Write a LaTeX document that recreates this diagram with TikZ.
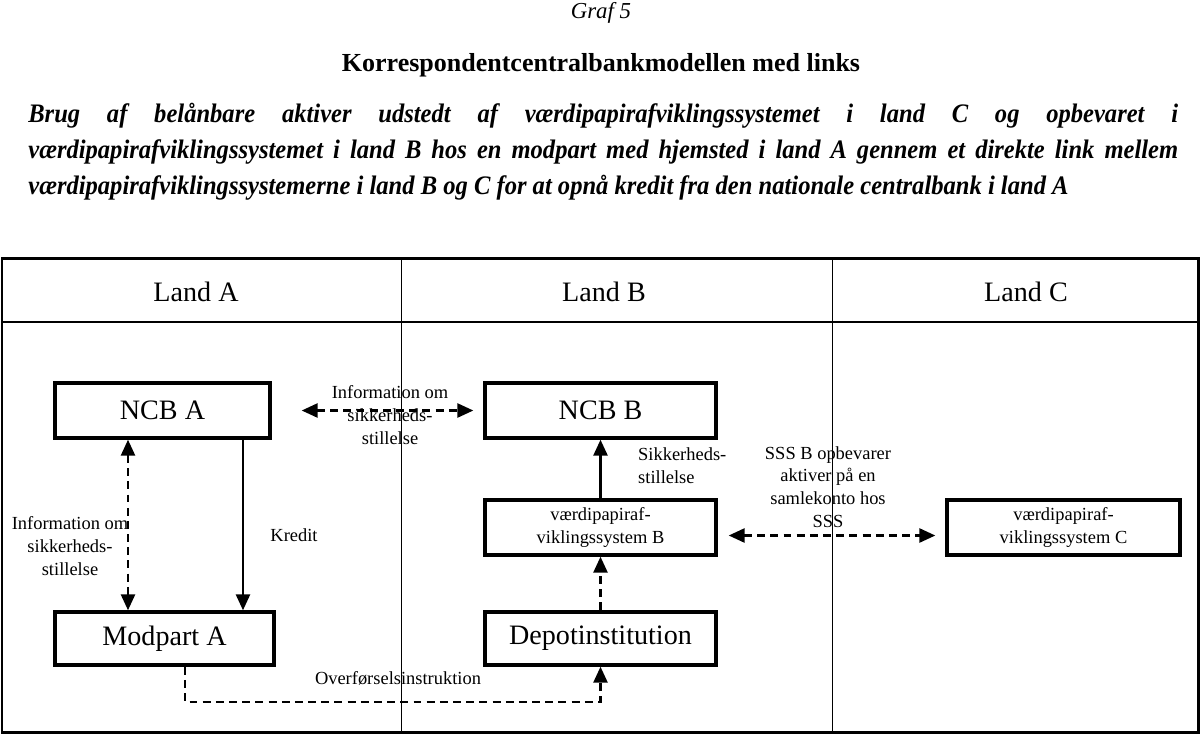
\documentclass[tikz,border=0pt]{standalone}
\usepackage{fontspec}
\setmainfont{Liberation Serif}
\newfontfamily\capfont[FakeStretch=0.92]{Liberation Serif}
\usetikzlibrary{arrows.meta,positioning,calc}

\tikzset{
  box/.style={draw,line width=2pt,inner sep=2pt,align=center},
  bigtxt/.style={font=\fontsize{16}{18}\selectfont},
  smalltxt/.style={font=\fontsize{10.5}{13}\selectfont,align=center},
  dasharrow/.style={line width=1.2pt,dash pattern=on 4.5pt off 3pt},
  solidarrow/.style={line width=1.2pt},
  >={Triangle[width=8pt,length=9pt]}
}

\begin{document}
\begin{tikzpicture}[x=0.02cm,y=-0.02cm]
\useasboundingbox (0,0) rectangle (1202,734);
% Headline and caption
\node[font=\fontsize{13}{15}\selectfont\itshape] (graf) at (601,13) {Graf 5};
\node[font=\fontsize{14.8}{16}\selectfont\bfseries] (title) at (601,65) {Korrespondentcentralbankmodellen med links};
\node[anchor=north west,inner sep=0pt,text width=23cm,align=justify,
  font=\fontsize{15.2}{20.5}\capfont\bfseries\itshape] (caption) at (28,103)
  {\hyphenpenalty=10000 Brug af belånbare aktiver udstedt af værdipapirafviklingssystemet i land C og opbevaret i\linebreak værdipapirafviklingssystemet i land B hos en modpart med hjemsted i land A gennem et direkte link mellem\linebreak værdipapirafviklingssystemerne i land B og C for at opnå kredit fra den nationale centralbank i land A};
% Frame with three columns
\draw[line width=1.7pt] (2,258) rectangle (1198,732);
\draw[line width=1.2pt] (2,322) -- (1198,322);
\draw[thin] (401,258) -- (401,732);
\draw[thin] (832,258) -- (832,732);
\node[bigtxt] (landA) at (196,292) {Land A};
\node[bigtxt] (landB) at (604,292) {Land B};
\node[bigtxt] (landC) at (1026,292) {Land C};
% Boxes
\node[box,bigtxt,minimum width=4.3cm,minimum height=1.1cm] (ncbA) at (162.5,410.5) {NCB A};
\node[box,bigtxt,minimum width=4.62cm,minimum height=1.1cm] (ncbB) at (600.5,410.5) {NCB B};
\node[box,smalltxt,minimum width=4.62cm,minimum height=1.1cm] (sssB) at (600.5,527.5) {værdipapiraf-\\viklingssystem B};
\node[box,smalltxt,minimum width=4.66cm,minimum height=1.1cm] (sssC) at (1063.5,527.5) {værdipapiraf-\\viklingssystem C};
\node[box,bigtxt,minimum width=4.38cm,minimum height=1.06cm] (modA) at (164.5,638.5) {Modpart A};
\node[box,bigtxt,minimum width=4.62cm,minimum height=1.06cm] (depot) at (600.5,638.5) {Depotinstitution};
% Connectors
\draw[dasharrow,<->] ([xshift=-0.69cm]ncbA.south) coordinate (infoA) -- (infoA |- modA.north);
\draw[solidarrow,->] ([xshift=1.61cm]ncbA.south) coordinate (kredA) -- (kredA |- modA.north);
\draw[dasharrow,<->] ([xshift=0.6cm]ncbA.east) -- ([xshift=-0.2cm]ncbB.west);
\draw[solidarrow,->] (sssB.north) -- (ncbB.south);
\draw[dasharrow,->] (depot.north) -- (sssB.south);
\draw[dasharrow,<->] ([shift={(0.22cm,-0.16cm)}]sssB.east) -- ([shift={(-0.2cm,-0.16cm)}]sssC.west);
\draw[dasharrow,->] ([xshift=0.41cm]modA.south) -- ++(0,35) -| (depot.south);
% Labels
\node[smalltxt] (lblinfoA) at (70,546) {Information om\\sikkerheds-\\stillelse};
\node[smalltxt] (lblkred) at (294,535) {Kredit};
\node[smalltxt] (lblinfoB) at (390,415) {Information om\\sikkerheds-\\stillelse};
\node[smalltxt,anchor=west,align=left] (lblsik) at (632,466) {Sikkerheds-\\stillelse};
\node[smalltxt] (lblsss) at (828,487) {SSS B opbevarer\\aktiver på en\\samlekonto hos\\SSS};
\node[smalltxt] (lbloverf) at (398,678) {Overførselsinstruktion};
\end{tikzpicture}
\end{document}
